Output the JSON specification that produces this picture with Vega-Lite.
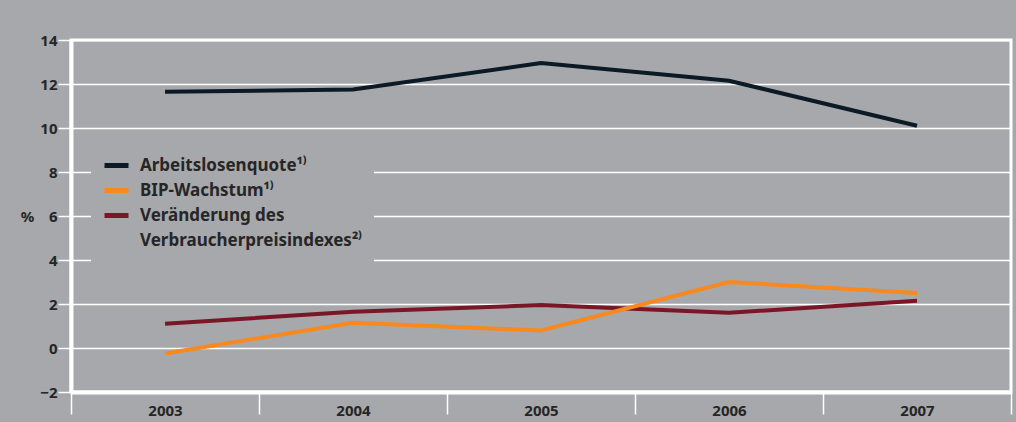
{
  "$schema": "https://vega.github.io/schema/vega-lite/v6.json",
  "width": 940,
  "height": 352,
  "autosize": {"type": "none"},
  "padding": {"left": 71, "top": 40, "right": 5, "bottom": 30},
  "background": "#a7a8ab",
  "config": {
    "view": {"stroke": "white", "strokeWidth": 3, "fill": "#a7a8ab"},
    "font": "Noto Sans"
  },
  "data": {
    "values": [
      {"Jahr": "2003", "Reihe": "Veränderung des Verbraucherpreisindexes²⁾", "Wert": 1.1},
      {"Jahr": "2004", "Reihe": "Veränderung des Verbraucherpreisindexes²⁾", "Wert": 1.65},
      {"Jahr": "2005", "Reihe": "Veränderung des Verbraucherpreisindexes²⁾", "Wert": 1.95},
      {"Jahr": "2006", "Reihe": "Veränderung des Verbraucherpreisindexes²⁾", "Wert": 1.6},
      {"Jahr": "2007", "Reihe": "Veränderung des Verbraucherpreisindexes²⁾", "Wert": 2.15},
      {"Jahr": "2003", "Reihe": "BIP-Wachstum¹⁾", "Wert": -0.25},
      {"Jahr": "2004", "Reihe": "BIP-Wachstum¹⁾", "Wert": 1.15},
      {"Jahr": "2005", "Reihe": "BIP-Wachstum¹⁾", "Wert": 0.8},
      {"Jahr": "2006", "Reihe": "BIP-Wachstum¹⁾", "Wert": 3.0},
      {"Jahr": "2007", "Reihe": "BIP-Wachstum¹⁾", "Wert": 2.5},
      {"Jahr": "2003", "Reihe": "Arbeitslosenquote¹⁾", "Wert": 11.65},
      {"Jahr": "2004", "Reihe": "Arbeitslosenquote¹⁾", "Wert": 11.75},
      {"Jahr": "2005", "Reihe": "Arbeitslosenquote¹⁾", "Wert": 12.95},
      {"Jahr": "2006", "Reihe": "Arbeitslosenquote¹⁾", "Wert": 12.15},
      {"Jahr": "2007", "Reihe": "Arbeitslosenquote¹⁾", "Wert": 10.1}
    ]
  },
  "mark": {"type": "line", "strokeWidth": 4},
  "encoding": {
    "x": {
      "field": "Jahr",
      "type": "nominal",
      "bandPosition": 0.5,
      "scale": {"type": "band", "paddingInner": 0, "paddingOuter": 0},
      "axis": {
        "title": null,
        "tickBand": "extent",
        "tickSize": 22,
        "tickColor": "white",
        "tickWidth": 1.5,
        "domainColor": "white",
        "domainWidth": 4,
        "labelPadding": -11,
        "labelFontSize": 15,
        "labelFontWeight": "bold",
        "labelColor": "#262626",
        "labelAngle": 0,
        "grid": false
      }
    },
    "y": {
      "field": "Wert",
      "type": "quantitative",
      "scale": {"domain": [-2, 14], "nice": false, "zero": false},
      "axis": {
        "values": [-2, 0, 2, 4, 6, 8, 10, 12, 14],
        "title": "%",
        "titleAngle": 0,
        "titleX": -44,
        "titleY": 176,
        "titleAlign": "center",
        "titleBaseline": "middle",
        "titleFontSize": 15,
        "titleFontWeight": "bold",
        "titleColor": "#262626",
        "grid": true,
        "gridColor": "white",
        "gridWidth": 1.5,
        "gridOpacity": 1,
        "domainColor": "white",
        "domainWidth": 4,
        "tickColor": "white",
        "tickWidth": 1.5,
        "tickSize": 13,
        "labelPadding": 1,
        "labelFontSize": 15,
        "labelFontWeight": "bold",
        "labelColor": "#262626"
      }
    },
    "color": {
      "field": "Reihe",
      "type": "nominal",
      "scale": {
        "domain": ["Arbeitslosenquote¹⁾", "BIP-Wachstum¹⁾", "Veränderung des Verbraucherpreisindexes²⁾", "Verbraucherpreisindexes²⁾"],
        "range": ["#0b1a24", "#f7891e", "#7b1626", "rgba(0,0,0,0)"]
      },
      "legend": {
        "orient": "none",
        "legendX": 20,
        "legendY": 100,
        "title": null,
        "symbolType": "stroke",
        "symbolStrokeWidth": 5,
        "symbolSize": 576,
        "labelFontSize": 17,
        "labelFontWeight": "bold",
        "labelColor": "#262626",
        "labelLimit": 400,
        "fillColor": "#a7a8ab",
        "padding": 11,
        "rowPadding": 0,
        "labelOffset": 9,
        "labelExpr": "datum.label == 'Veränderung des Verbraucherpreisindexes²⁾' ? 'Veränderung des' : (datum.label == 'Verbraucherpreisindexes²⁾' ? datum.label + '\u00a0\u00a0\u00a0\u00a0' : datum.label)"
      }
    }
  }
}
